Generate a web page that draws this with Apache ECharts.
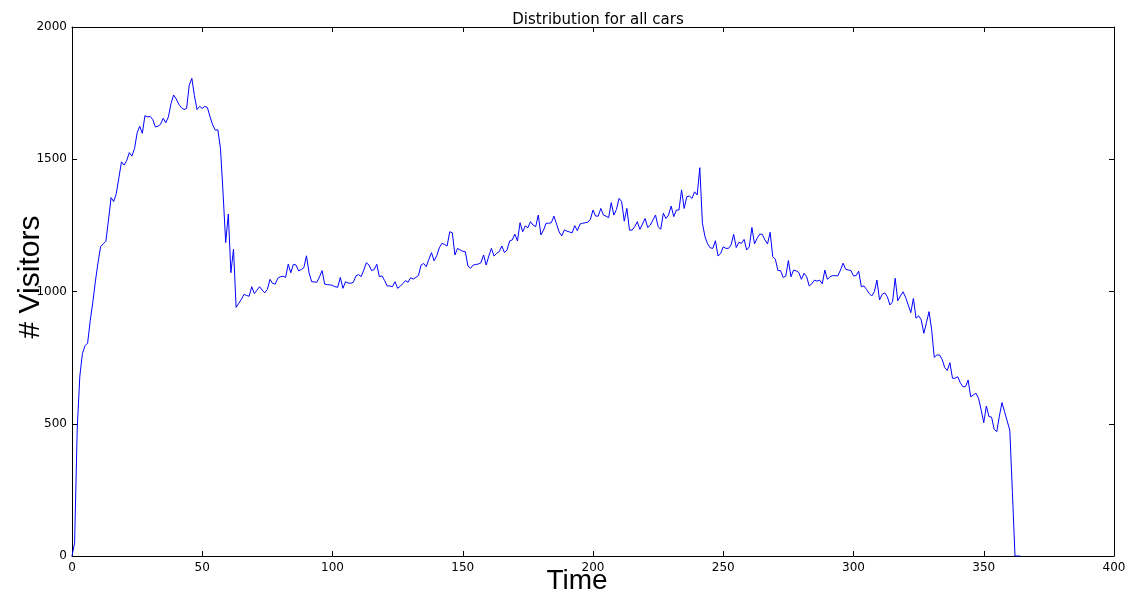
<!DOCTYPE html>
<html><head><meta charset="utf-8">
<script src="https://cdn.jsdelivr.net/npm/echarts@6/dist/echarts.min.js"></script>
<style>html,body{margin:0;padding:0;background:#fff}#c{width:1132px;height:595px}</style>
</head><body><div id="c"></div>
<script>
const titleText = "Distribution for all cars";
const xLabel = "Time";
const yLabel = "# Visitors";
const xTicks = [0, 50, 100, 150, 200, 250, 300, 350, 400];
const yTicks = [0, 500, 1000, 1500, 2000];
// visitors per time step, t = 0,1,2,...
const visitors = [
0,50,480,680,765,795,805,890,960,1040,
1110,1170,1180,1190,1270,1355,1340,1370,1430,1490,
1478,1495,1525,1512,1540,1600,1625,1598,1665,1660,
1662,1650,1622,1625,1632,1655,1638,1660,1710,1743,
1728,1708,1695,1688,1692,1780,1806,1740,1688,1700,
1692,1700,1695,1660,1630,1610,1611,1540,1371,1185,
1293,1071,1160,940,955,970,989,985,982,1018,
992,1005,1018,1005,995,1008,1046,1031,1028,1050,
1056,1058,1053,1103,1071,1103,1100,1078,1083,1090,
1135,1071,1037,1036,1035,1055,1079,1028,1026,1025,
1023,1018,1016,1053,1012,1037,1032,1031,1035,1059,
1064,1056,1081,1109,1100,1079,1083,1103,1056,1059,
1041,1021,1021,1018,1037,1012,1020,1030,1041,1035,
1052,1047,1053,1060,1100,1106,1094,1122,1147,1116,
1135,1165,1182,1178,1172,1226,1222,1138,1163,1157,
1152,1150,1096,1088,1100,1102,1104,1109,1138,1100,
1134,1163,1134,1144,1151,1172,1147,1157,1191,1195,
1217,1191,1260,1226,1248,1241,1264,1251,1245,1289,
1214,1232,1258,1258,1260,1285,1255,1225,1210,1233,
1228,1225,1222,1249,1230,1255,1258,1260,1262,1273,
1308,1285,1285,1314,1289,1285,1279,1336,1289,1310,
1352,1340,1266,1314,1232,1232,1245,1264,1235,1255,
1276,1242,1251,1270,1289,1245,1235,1296,1276,1289,
1323,1283,1308,1308,1384,1314,1358,1361,1352,1377,
1365,1468,1258,1207,1180,1165,1163,1192,1134,1144,
1169,1163,1163,1176,1216,1166,1186,1182,1197,1157,
1169,1242,1180,1201,1217,1216,1195,1180,1224,1132,
1122,1079,1079,1053,1058,1117,1056,1081,1078,1072,
1046,1069,1056,1021,1029,1043,1039,1043,1029,1081,
1046,1056,1060,1060,1059,1081,1107,1084,1081,1079,
1059,1060,1077,1018,1021,1008,993,983,999,1043,
968,989,995,980,949,961,1050,965,983,999,
978,949,920,974,899,908,893,842,882,924,
856,751,760,760,744,713,701,731,672,672,
678,655,640,640,665,602,609,615,596,552,
504,567,527,525,479,470,529,580,545,510,
476,240,0,0,0
];
const seriesData = visitors.map((v, i) => [i, v]);

const chart = echarts.init(document.getElementById('c'), null, {renderer: 'canvas'});
const tickFont = {fontFamily: 'DejaVu Sans', fontSize: 12, color: '#000', formatter: v => String(v)};
const axisCommon = {
  axisLine: {show: true, onZero: false, lineStyle: {color: '#000', width: 1}},
  axisTick: {show: true, inside: true, length: 5, lineStyle: {color: '#000'}},
  splitLine: {show: false}
};
chart.setOption({
  animation: false,
  backgroundColor: '#fff',
  title: {text: titleText, left: 593, textAlign: 'center', top: 8,
    textStyle: {fontFamily: 'DejaVu Sans', fontSize: 15, fontWeight: 'normal', color: '#000'}},
  grid: {left: 72, right: 18, top: 27, bottom: 39},
  xAxis: [
    Object.assign({type: 'value', position: 'bottom', min: xTicks[0], max: xTicks[xTicks.length-1], interval: 50,
      axisLabel: Object.assign({margin: 6}, tickFont)}, axisCommon),
    Object.assign({type: 'value', position: 'top', min: xTicks[0], max: xTicks[xTicks.length-1], interval: 50,
      axisLabel: {show: false}}, axisCommon)
  ],
  yAxis: [
    Object.assign({type: 'value', position: 'left', min: yTicks[0], max: yTicks[yTicks.length-1], interval: 500,
      axisLabel: Object.assign({margin: 5}, tickFont)}, axisCommon),
    Object.assign({type: 'value', position: 'right', min: yTicks[0], max: yTicks[yTicks.length-1], interval: 500,
      axisLabel: {show: false}}, axisCommon)
  ],
  series: [{
    type: 'line', data: seriesData, xAxisIndex: 0, yAxisIndex: 0,
    showSymbol: false, symbol: 'none',
    lineStyle: {color: '#0000ff', width: 1}, itemStyle: {color: '#0000ff'}
  }],
  graphic: [
    {type: 'text', position: [577, 581],
      style: {text: xLabel, fontFamily: 'Liberation Sans', fontSize: 28, fill: '#000', align: 'center', verticalAlign: 'middle'}},
    {type: 'text', position: [31, 277], rotation: Math.PI/2,
      style: {text: yLabel, fontFamily: 'Liberation Sans', fontSize: 30, fill: '#000', align: 'center', verticalAlign: 'middle'}}
  ]
});
</script></body></html>
